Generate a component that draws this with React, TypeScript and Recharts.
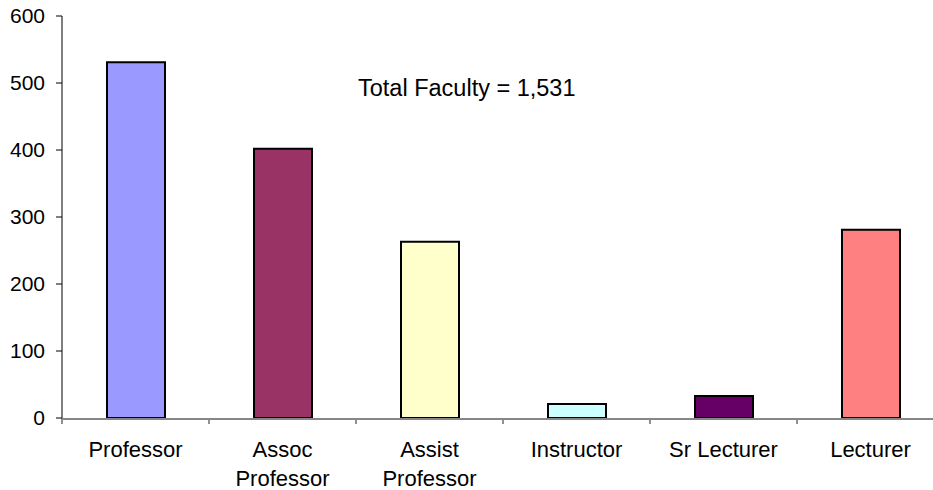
import React from "react";
import { BarChart, Bar, XAxis, YAxis, Cell } from "recharts";

const categories = ["Professor", "Assoc\nProfessor", "Assist\nProfessor", "Instructor", "Sr Lecturer", "Lecturer"];
const counts = [531, 402, 263, 21, 33, 281];
const barColors = ["#9999FF", "#993366", "#FFFFCC", "#CCFFFF", "#660066", "#FF8080"];
const yTicks = [0, 100, 200, 300, 400, 500, 600];
const boundaryTicks = [0, 1, 2, 3, 4, 5, 6];
const titleText = "Total Faculty = 1,531";

const data = categories.map((c, i) => ({ name: c, value: counts[i], idx: i + 0.5 }));

const FONT = "'Liberation Sans', Arial, sans-serif";

const CatTick = (props: any) => {
  const { x, y, payload } = props;
  const lines = String(payload.value).split("\n");
  return (
    <text x={x} y={y} textAnchor="middle" fontFamily={FONT} fontSize={22} fill="#000">
      {lines.map((l, i) => (
        <tspan key={i} x={x} dy={i === 0 ? 38 : 29}>
          {l}
        </tspan>
      ))}
    </text>
  );
};

const EmptyTick = () => <g />;

export default function App() {
  return (
    <div style={{ position: "absolute", left: 0, top: 0, width: 933, height: 490, overflow: "hidden", background: "#fff" }}>
      <BarChart
        width={960}
        height={490}
        data={data}
        margin={{ top: 16, right: 16, bottom: 70, left: 0 }}
        style={{ overflow: "visible" }}
      >
        <XAxis
          xAxisId="b"
          type="number"
          dataKey="idx"
          domain={[0, 6]}
          ticks={boundaryTicks}
          height={1}
          axisLine={false}
          tick={<EmptyTick />}
          tickLine={{ stroke: "#222", strokeWidth: 1 }}
          tickSize={6}
          allowDataOverflow
        />
        <XAxis
          xAxisId="cat"
          dataKey="name"
          height={1}
          axisLine={{ stroke: "#868686", strokeWidth: 2 }}
          tickLine={false}
          tickSize={0}
          tickMargin={0}
          interval={0}
          tick={<CatTick />}
        />
        <YAxis
          domain={[0, 600]}
          ticks={yTicks}
          width={62}
          axisLine={{ stroke: "#000", strokeWidth: 1 }}
          tickLine={{ stroke: "#000", strokeWidth: 1 }}
          tickSize={6}
          tickMargin={11}
          tick={{ fill: "#000", fontSize: 21, fontFamily: FONT }}
        />
        <Bar dataKey="value" xAxisId="cat" barSize={58} stroke="#000" strokeWidth={2} isAnimationActive={false}>
          {data.map((d, i) => (
            <Cell key={i} fill={barColors[i]} />
          ))}
        </Bar>
      </BarChart>
      <svg width={933} height={490} style={{ position: "absolute", left: 0, top: 0, pointerEvents: "none" }}>
        <text x={358} y={96} fontFamily={FONT} fontSize={23.5} fill="#000">
          {titleText}
        </text>
      </svg>
    </div>
  );
}
